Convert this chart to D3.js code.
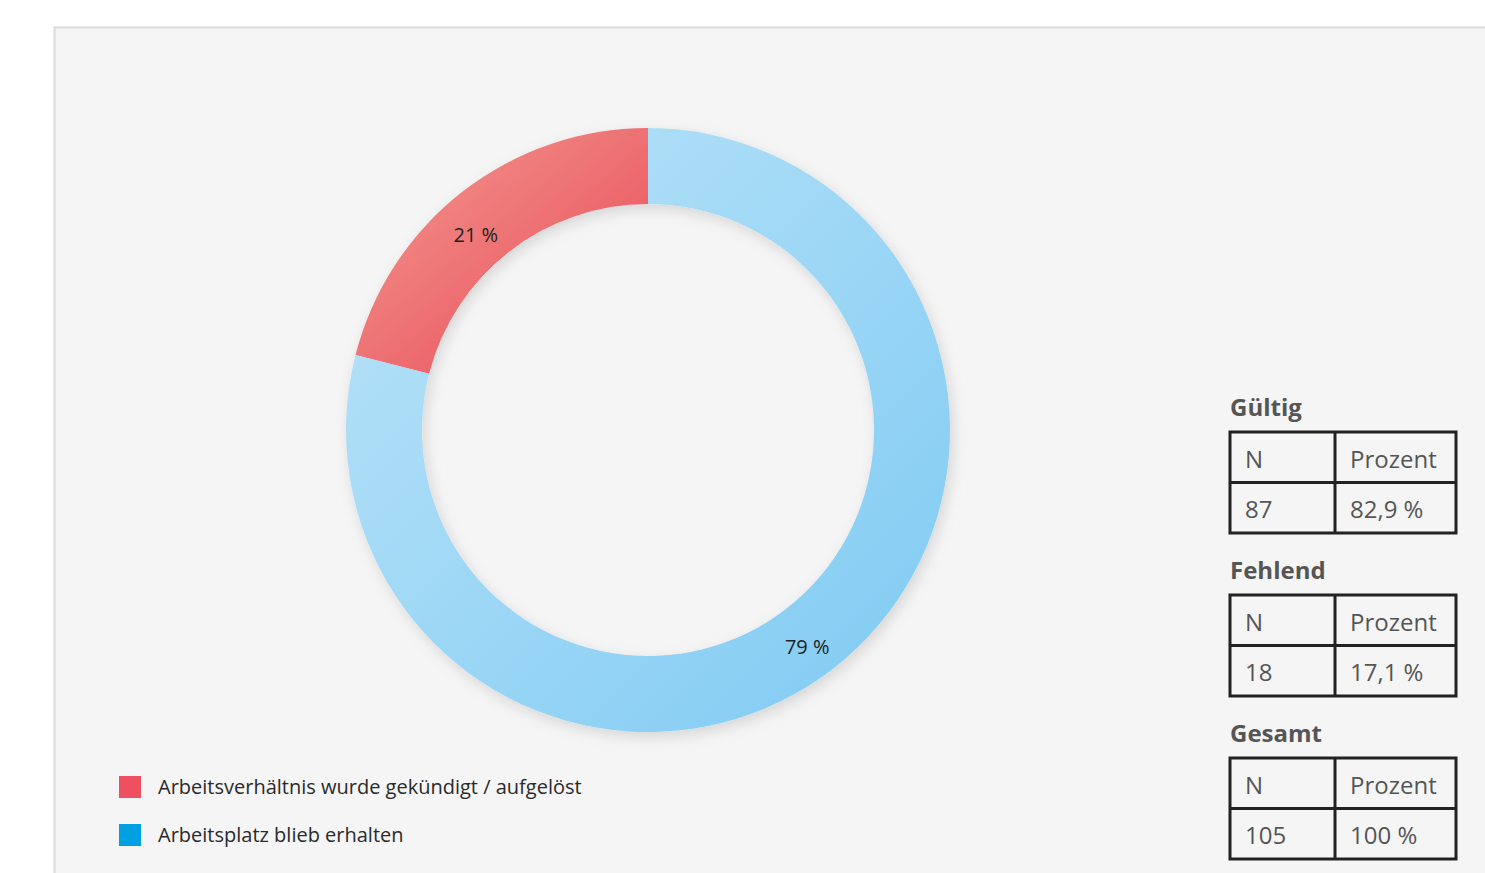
<!DOCTYPE html>
<html>
<head>
<meta charset="utf-8">
<script src="https://cdn.jsdelivr.net/npm/d3@7"></script>
<style>
  html, body { margin: 0; padding: 0; background: #ffffff; }
  svg { display: block; }
  text { font-family: "Open Sans", "Noto Sans", sans-serif; }
</style>
</head>
<body>
<svg id="chart" width="1485" height="873"></svg>
<script>
// Categories and their shares (percent)
const categories = ["Arbeitsverhältnis wurde gekündigt / aufgelöst", "Arbeitsplatz blieb erhalten"];
const shares = [21, 79];
const legendColors = ["#ee5060", "#00a0e3"];

// Case summary tables
const groups = ["Gültig", "Fehlend", "Gesamt"];
const counts = [87, 18, 105];
const percents = ["82,9 %", "17,1 %", "100 %"];
const headers = ["N", "Prozent"];

const svg = d3.select("#chart");
const W = 1485, H = 873;

// panel
svg.append("rect")
  .attr("x", 54.5).attr("y", 27.5)
  .attr("width", W).attr("height", H)
  .attr("fill", "#f5f5f5")
  .attr("stroke", "#dadada").attr("stroke-width", 2);

const defs = svg.append("defs");
const grads = [
  { id: "gRed", from: "#f49a90", to: "#e74856" },
  { id: "gBlue", from: "#bce4f8", to: "#7ecaf3" }
];
grads.forEach(g => {
  const lg = defs.append("linearGradient").attr("id", g.id)
    .attr("x1", 0).attr("y1", 0).attr("x2", 1).attr("y2", 1);
  lg.append("stop").attr("offset", "0%").attr("stop-color", g.from);
  lg.append("stop").attr("offset", "100%").attr("stop-color", g.to);
});
const f = defs.append("filter").attr("id", "shadow")
  .attr("x", "-20%").attr("y", "-20%").attr("width", "140%").attr("height", "140%");
f.append("feDropShadow").attr("dx", 3).attr("dy", 5).attr("stdDeviation", 7)
  .attr("flood-color", "#000").attr("flood-opacity", 0.13);

// donut
const cx = 648, cy = 430, rOuter = 302, rInner = 226;
const total = d3.sum(shares);
const pie = d3.pie().sort(null)
  .startAngle(-2 * Math.PI * shares[0] / total)
  .endAngle(2 * Math.PI - 2 * Math.PI * shares[0] / total);
const arcs = pie(shares);
const arc = d3.arc().innerRadius(rInner).outerRadius(rOuter);
const labelArc = d3.arc().innerRadius(250).outerRadius(276);
// small label offsets from the arc centroid
const labelNudge = [[-11, 13], [-2, 9]];

const g = svg.append("g").attr("transform", `translate(${cx},${cy})`);
const ring = g.append("g").attr("filter", "url(#shadow)");
ring.selectAll("path").data(arcs).join("path")
  .attr("d", arc)
  .attr("fill", (d, i) => `url(#${grads[i].id})`);

g.selectAll("text.val").data(arcs).join("text")
  .attr("class", "val")
  .attr("transform", (d, i) => {
    const c = labelArc.centroid(d);
    return `translate(${c[0] + labelNudge[i][0]},${c[1] + labelNudge[i][1]})`;
  })
  .attr("text-anchor", "middle")
  .attr("dy", "0.35em")
  .attr("font-size", 20)
  .attr("fill", "#222")
  .text(d => d.data + " %");

// legend
const legend = svg.append("g").attr("transform", "translate(119,776)");
categories.forEach((c, i) => {
  const row = legend.append("g").attr("transform", `translate(0,${i * 48})`);
  row.append("rect").attr("width", 22).attr("height", 22).attr("fill", legendColors[i]);
  row.append("text").attr("x", 39).attr("y", 11).attr("dy", "0.35em")
    .attr("font-size", 20).attr("fill", "#2a2a2a").text(c);
});

// summary tables
const tx = 1230, tW = 226, colX = 105, rowH = 50.5;
const tops = [432, 595, 758];
groups.forEach((name, i) => {
  const t = svg.append("g").attr("transform", `translate(${tx},${tops[i]})`);
  t.append("text").attr("x", 0).attr("y", -24).attr("dy", "0.35em")
    .attr("font-size", 24).attr("font-weight", "bold").attr("fill", "#555")
    .text(name);
  const cells = [[headers[0], headers[1]], [String(counts[i]), percents[i]]];
  cells.forEach((r, ri) => {
    r.forEach((v, ci) => {
      t.append("text")
        .attr("x", (ci === 0 ? 0 : colX) + 15)
        .attr("y", ri * rowH + rowH / 2 + 2).attr("dy", "0.35em")
        .attr("font-size", 24).attr("fill", "#555")
        .text(v);
    });
  });
  t.append("rect").attr("width", tW).attr("height", rowH * 2)
    .attr("fill", "none").attr("stroke", "#222").attr("stroke-width", 3);
  t.append("line").attr("x1", 0).attr("x2", tW).attr("y1", rowH).attr("y2", rowH)
    .attr("stroke", "#222").attr("stroke-width", 3);
  t.append("line").attr("x1", colX).attr("x2", colX).attr("y1", 0).attr("y2", rowH * 2)
    .attr("stroke", "#222").attr("stroke-width", 3);
});
</script>
</body>
</html>
